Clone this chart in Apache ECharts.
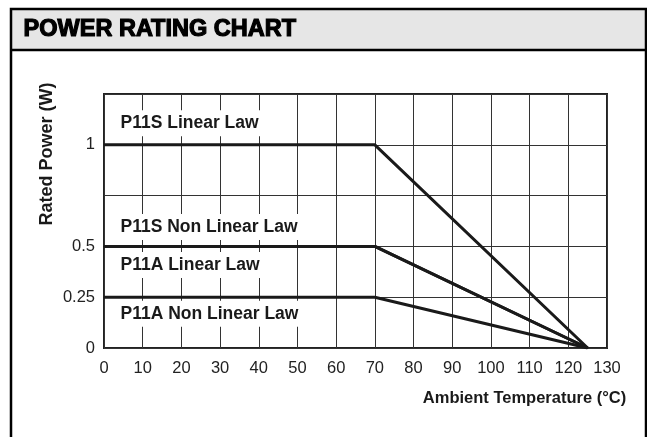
<!DOCTYPE html>
<html>
<head>
    <meta charset="utf-8">
    <title>Power Rating Chart</title>
    <script src="https://cdn.jsdelivr.net/npm/echarts@6/dist/echarts.min.js"></script>
    <style>
        html, body { margin: 0; padding: 0; background: #fff; }
        #chart { width: 647px; height: 437px; }
    </style>
</head>
<body>
    <div id="chart"></div>

    <script type="text/javascript">
        // data
        var temps = [0, 70, 125];
        var p11sLinear = [1, 1, 0];
        var p11sNonLinear = [0.5, 0.5, 0];
        var p11aLinear = [0.5, 0.5, 0];
        var p11aNonLinear = [0.25, 0.25, 0];
        var yTickLabels = ['0', '0.25', '0.5', '1'];

        var font = "'Liberation Sans', Arial, Helvetica, sans-serif";

        function pts(vals) {
            return temps.map(function (t, i) { return [t, vals[i]]; });
        }

        // one line per law, the name sits next to its first point
        function lawSeries(name, vals, dy) {
            var data = pts(vals);
            data[0] = {
                value: data[0],
                label: {
                    show: true,
                    formatter: name,
                    position: [15, dy],
                    align: 'left',
                    verticalAlign: 'middle',
                    fontFamily: font,
                    fontWeight: 'bold',
                    fontSize: 17.5,
                    color: '#1a1a1a',
                    backgroundColor: '#fff',
                    padding: [4, 2, 4, 2]
                }
            };
            return {
                name: name,
                type: 'line',
                data: data,
                symbol: 'circle',
                symbolSize: 1,
                itemStyle: { color: '#1a1a1a' },
                lineStyle: { color: '#1a1a1a', width: 3 },
                animation: false
            };
        }

        var option = {
            animation: false,
            grid: {
                left: 104, top: 94, right: 40, bottom: 89,
                show: true,
                borderColor: '#222',
                borderWidth: 2
            },
            xAxis: {
                type: 'value',
                min: 0, max: 130, interval: 10,
                name: 'Ambient Temperature (°C)',
                nameLocation: 'middle',
                nameGap: 42,
                nameTextStyle: {
                    fontFamily: font, fontWeight: 'bold', fontSize: 16.5,
                    color: '#1a1a1a',
                    padding: [0, 0, 0, 338]
                },
                axisLine: { show: false },
                axisTick: { show: false },
                axisLabel: { fontFamily: font, fontSize: 16.5, color: '#222', margin: 12 },
                splitLine: { show: true, lineStyle: { color: '#333', width: 1 } }
            },
            yAxis: {
                type: 'value',
                min: 0, max: 1.25, interval: 0.25,
                name: 'Rated Power (W)',
                nameLocation: 'middle',
                nameGap: 48,
                nameMoveOverlap: false,
                nameTextStyle: {
                    fontFamily: font, fontWeight: 'bold', fontSize: 18,
                    color: '#1a1a1a', padding: [0, 0, 0, 134]
                },
                axisLine: { show: false },
                axisTick: { show: false },
                axisLabel: {
                    fontFamily: font, fontSize: 16.5, color: '#222', margin: 9,
                    formatter: function (v) {
                        var s = String(v);
                        return yTickLabels.indexOf(s) >= 0 ? s : '';
                    }
                },
                splitLine: { show: true, lineStyle: { color: '#333', width: 1 } }
            },
            graphic: [
                {
                    type: 'rect',
                    shape: { x: 11, y: 9, width: 635, height: 41 },
                    style: { fill: '#e6e6e6', stroke: null },
                    z: 0
                },
                {
                    type: 'line',
                    shape: { x1: 11, y1: 50, x2: 646, y2: 50 },
                    style: { stroke: '#000', lineWidth: 2.5 }
                },
                {
                    type: 'rect',
                    shape: { x: 11, y: 9, width: 635, height: 450 },
                    style: { fill: null, stroke: '#000', lineWidth: 2.5 }
                },
                {
                    type: 'text',
                    left: 23,
                    top: 17,
                    style: {
                        text: 'POWER RATING CHART',
                        fontFamily: font,
                        fontWeight: 'bold',
                        fontSize: 23.5,
                        fill: '#000',
                        stroke: '#000',
                        lineWidth: 1.2
                    }
                }
            ],
            series: [
                lawSeries('P11S Linear Law', p11sLinear, -21),
                lawSeries('P11S Non Linear Law', p11sNonLinear, -19),
                lawSeries('P11A Linear Law', p11aLinear, 19),
                lawSeries('P11A Non Linear Law', p11aNonLinear, 17)
            ]
        };

        var chart = echarts.init(document.getElementById('chart'));
        chart.setOption(option);
    </script>
</body>
</html>
